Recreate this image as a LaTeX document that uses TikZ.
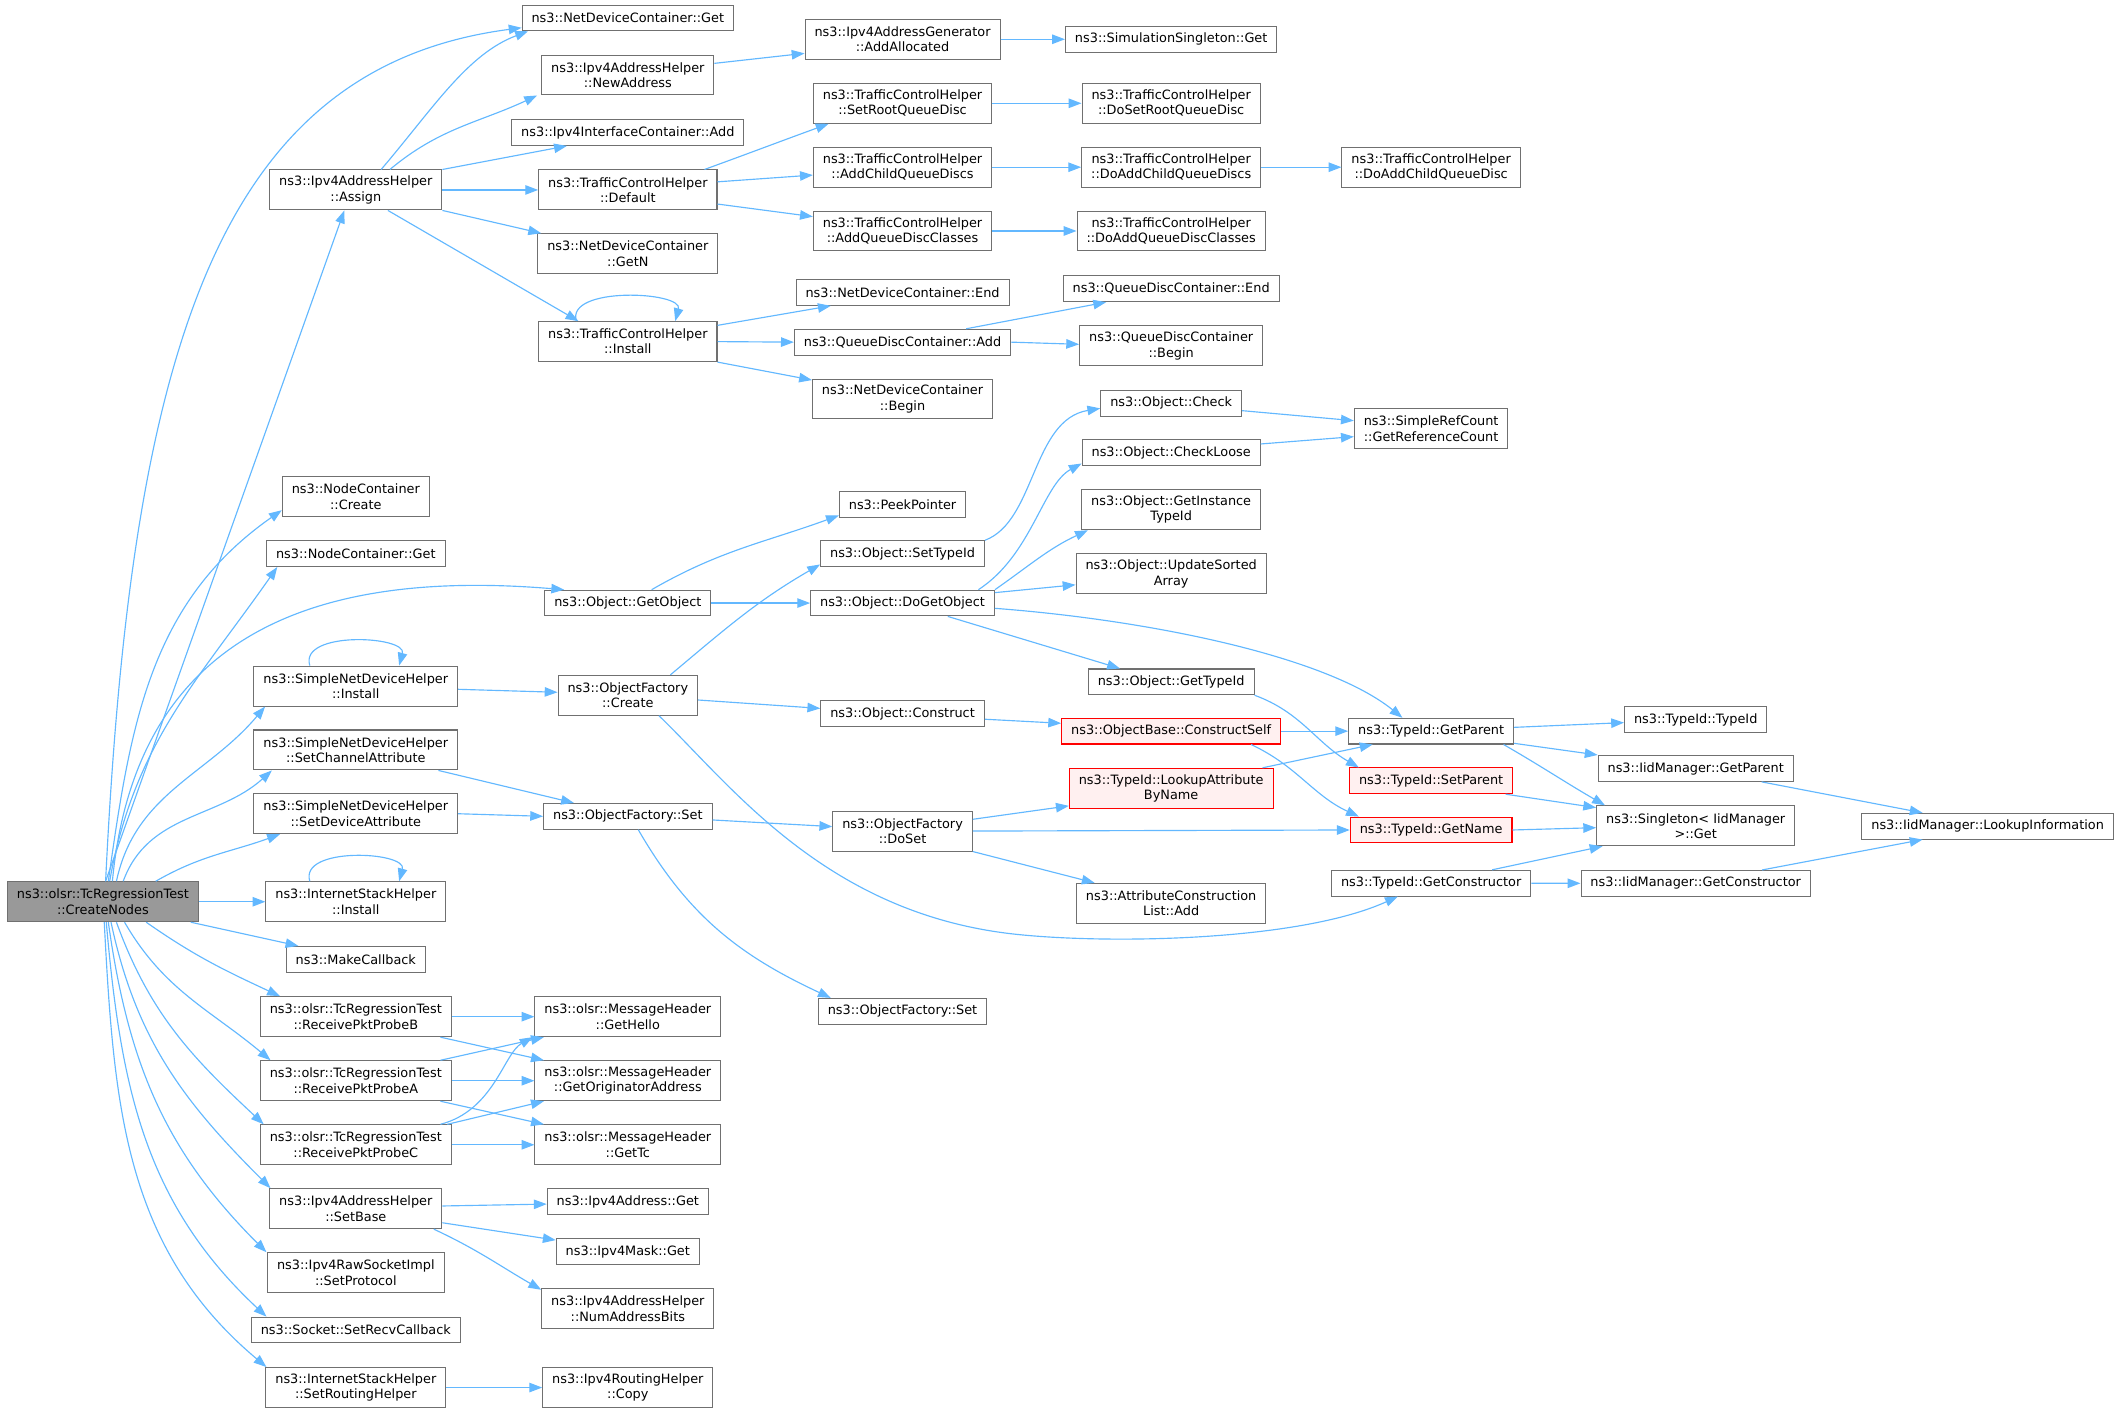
\documentclass[tikz,border=0pt]{standalone}
\usepackage{fontspec}
\setmainfont{DejaVu Sans}
\usetikzlibrary{arrows.meta}
\definecolor{edgeblue}{HTML}{63B8FF}
\definecolor{ndgray}{HTML}{707070}
\definecolor{rootgray}{HTML}{999999}
\definecolor{redfill}{HTML}{FFF0F0}
\definecolor{redline}{HTML}{FF0000}
\begin{document}
\begin{tikzpicture}[x=1pt,y=-1pt,
  nd/.style={draw=ndgray, fill=white, line width=0.75pt, inner xsep=7pt, inner ysep=0pt,
    minimum height=19pt, align=center, font={\fontsize{9.5}{11.2}\selectfont}},
  nd2/.style={nd, minimum height=29.5pt},
  rednd/.style={draw=redline, fill=redfill},
  rootnd/.style={fill=rootgray},
  edge/.style={draw=edgeblue, line width=0.85pt, -{Triangle[length=9.5pt,width=7pt]}}]
\useasboundingbox (0,0) rectangle (1568,1043.6);
% column 0
\node[nd2,rootnd] (CN) at (76,666) {ns3::olsr::TcRegressionTest\\::CreateNodes};
% column 1
\node[nd2] (Assign) at (262.8,140.3) {ns3::Ipv4AddressHelper\\::Assign};
\node[nd2] (NodeCreate) at (262.8,366.8) {ns3::NodeContainer\\::Create};
\node[nd]  (NodeGet) at (262.8,408.9) {ns3::NodeContainer::Get};
\node[nd2] (SNDHInst) at (262.8,506.7) {ns3::SimpleNetDeviceHelper\\::Install};
\node[nd2] (SetChan) at (262.8,553.9) {ns3::SimpleNetDeviceHelper\\::SetChannelAttribute};
\node[nd2] (SetDev) at (262.8,601) {ns3::SimpleNetDeviceHelper\\::SetDeviceAttribute};
\node[nd2] (ISHInst) at (262.8,666) {ns3::InternetStackHelper\\::Install};
\node[nd]  (MakeCB) at (262.8,708.5) {ns3::MakeCallback};
\node[nd2] (ProbeB) at (262.8,750.9) {ns3::olsr::TcRegressionTest\\::ReceivePktProbeB};
\node[nd2] (ProbeA) at (262.8,798.2) {ns3::olsr::TcRegressionTest\\::ReceivePktProbeA};
\node[nd2] (ProbeC) at (262.8,845.5) {ns3::olsr::TcRegressionTest\\::ReceivePktProbeC};
\node[nd2] (SetBase) at (262.8,892.7) {ns3::Ipv4AddressHelper\\::SetBase};
\node[nd2] (SetProto) at (262.8,940) {ns3::Ipv4RawSocketImpl\\::SetProtocol};
\node[nd]  (SetRecv) at (262.8,982.3) {ns3::Socket::SetRecvCallback};
\node[nd2] (SetRouting) at (262.8,1024.8) {ns3::InternetStackHelper\\::SetRoutingHelper};
% column 2
\node[nd]  (NDCGet) at (463.7,13.2) {ns3::NetDeviceContainer::Get};
\node[nd2] (NewAddr) at (463.7,55.4) {ns3::Ipv4AddressHelper\\::NewAddress};
\node[nd]  (IfAdd) at (463.7,97.9) {ns3::Ipv4InterfaceContainer::Add};
\node[nd2] (Default) at (463.7,140.3) {ns3::TrafficControlHelper\\::Default};
\node[nd2] (GetN) at (463.7,187.4) {ns3::NetDeviceContainer\\::GetN};
\node[nd2] (TCInst) at (463.7,252.3) {ns3::TrafficControlHelper\\::Install};
\node[nd]  (GetObject) at (463.7,445.4) {ns3::Object::GetObject};
\node[nd2] (OFCreate) at (463.7,513.5) {ns3::ObjectFactory\\::Create};
\node[nd]  (OFSet) at (463.7,602.9) {ns3::ObjectFactory::Set};
\node[nd2] (GetHello) at (463.7,750.9) {ns3::olsr::MessageHeader\\::GetHello};
\node[nd2] (GetOrig) at (463.7,798.2) {ns3::olsr::MessageHeader\\::GetOriginatorAddress};
\node[nd2] (GetTc) at (463.7,845.5) {ns3::olsr::MessageHeader\\::GetTc};
\node[nd]  (AddrGet) at (463.7,887.6) {ns3::Ipv4Address::Get};
\node[nd]  (MaskGet) at (463.7,924.3) {ns3::Ipv4Mask::Get};
\node[nd2] (NumBits) at (463.7,966.6) {ns3::Ipv4AddressHelper\\::NumAddressBits};
\node[nd2] (RCopy) at (463.7,1024.8) {ns3::Ipv4RoutingHelper\\::Copy};
% column 3
\node[nd2] (AddAlloc) at (666.6,29) {ns3::Ipv4AddressGenerator\\::AddAllocated};
\node[nd2] (SetRoot) at (666.6,76.3) {ns3::TrafficControlHelper\\::SetRootQueueDisc};
\node[nd2] (AddChild) at (666.6,123.5) {ns3::TrafficControlHelper\\::AddChildQueueDiscs};
\node[nd2] (AddQDC) at (666.6,170.6) {ns3::TrafficControlHelper\\::AddQueueDiscClasses};
\node[nd]  (NDCEnd) at (666.6,216) {ns3::NetDeviceContainer::End};
\node[nd]  (QDCAdd) at (666.6,252.7) {ns3::QueueDiscContainer::Add};
\node[nd2] (NDCBegin) at (666.6,294.7) {ns3::NetDeviceContainer\\::Begin};
\node[nd]  (PeekPtr) at (666.6,372.7) {ns3::PeekPointer};
\node[nd]  (SetTypeId) at (666.6,408.9) {ns3::Object::SetTypeId};
\node[nd]  (DoGetObj) at (666.6,445.4) {ns3::Object::DoGetObject};
\node[nd]  (Construct) at (666.6,527.2) {ns3::Object::Construct};
\node[nd2] (DoSet) at (666.6,613.8) {ns3::ObjectFactory\\::DoSet};
\node[nd]  (OFSet2) at (666.6,746.9) {ns3::ObjectFactory::Set};
% column 4
\node[nd]  (SimSing) at (865,29) {ns3::SimulationSingleton::Get};
\node[nd2] (DoSetRoot) at (865,76.3) {ns3::TrafficControlHelper\\::DoSetRootQueueDisc};
\node[nd2] (DoAddChildQDs) at (865,123.5) {ns3::TrafficControlHelper\\::DoAddChildQueueDiscs};
\node[nd2] (DoAddQDC) at (865,170.6) {ns3::TrafficControlHelper\\::DoAddQueueDiscClasses};
\node[nd]  (QDCEnd) at (865,213.3) {ns3::QueueDiscContainer::End};
\node[nd2] (QDCBegin) at (865,255.5) {ns3::QueueDiscContainer\\::Begin};
\node[nd]  (ObjCheck) at (865,297.9) {ns3::Object::Check};
\node[nd]  (CheckLoose) at (865,334.3) {ns3::Object::CheckLoose};
\node[nd2] (GetInstTid) at (865,376.5) {ns3::Object::GetInstance\\TypeId};
\node[nd2] (UpdSorted) at (865,423.9) {ns3::Object::UpdateSorted\\Array};
\node[nd]  (GetTypeId) at (865,503.6) {ns3::Object::GetTypeId};
\node[nd,rednd] (CSelf) at (865,540) {ns3::ObjectBase::ConstructSelf};
\node[nd2,rednd] (LookupAttr) at (865,582.2) {ns3::TypeId::LookupAttribute\\ByName};
\node[nd2] (ACAdd) at (865,667.2) {ns3::AttributeConstruction\\List::Add};
% column 5
\node[nd2] (DoAddChildQD) at (1057,123.5) {ns3::TrafficControlHelper\\::DoAddChildQueueDisc};
\node[nd2] (GetRefCount) at (1057,316.6) {ns3::SimpleRefCount\\::GetReferenceCount};
\node[nd]  (GetParent) at (1057,540) {ns3::TypeId::GetParent};
\node[nd,rednd] (SetParent) at (1057,576.7) {ns3::TypeId::SetParent};
\node[nd,rednd] (GetName) at (1057,613) {ns3::TypeId::GetName};
\node[nd]  (GetCtor) at (1057,652.3) {ns3::TypeId::GetConstructor};
% column 6
\node[nd]  (TidTid) at (1252.4,531.4) {ns3::TypeId::TypeId};
\node[nd]  (IidParent) at (1252.4,567.6) {ns3::IidManager::GetParent};
\node[nd2] (SingGet) at (1252.4,609.9) {ns3::Singleton< IidManager\\>::Get};
\node[nd]  (IidCtor) at (1252.4,652.4) {ns3::IidManager::GetConstructor};
% column 7
\node[nd]  (LookupInfo) at (1468,610.2) {ns3::IidManager::LookupInformation};

% ---- edges from CreateNodes
\draw[edge] ([xshift=2pt]CN.north) .. controls (97,260) and (160,50) .. ([yshift=-7.3pt]NDCGet.west);
\draw[edge] ([xshift=2pt]CN.north) -- ([xshift=-8.5pt]Assign.south);
\draw[edge] ([xshift=4pt]CN.north) to[out=82,in=215] ([yshift=-10pt]NodeCreate.west);
\draw[edge] ([xshift=5pt]CN.north) to[out=80,in=235] ([xshift=-58pt]NodeGet.south);
\draw[edge] ([xshift=7pt]CN.north) .. controls (100,470) and (230,420) .. ([xshift=-47pt]GetObject.north);
\draw[edge] ([xshift=10pt]CN.north) to[out=78,in=230] ([xshift=-67pt]SNDHInst.south);
\draw[edge] ([xshift=15pt]CN.north) to[out=70,in=222] ([xshift=-62pt]SetChan.south);
\draw[edge] ([xshift=39pt]CN.north) to[out=30,in=200] ([xshift=-56pt]SetDev.south);
\draw[edge] (CN.east) -- (ISHInst.west);
\draw[edge] ([xshift=-6pt]CN.south east) -- ([xshift=-42.4pt]MakeCB.north);
\draw[edge] ([xshift=32pt]CN.south) to[out=-35,in=155] ([xshift=-56pt]ProbeB.north);
\draw[edge] ([xshift=16pt]CN.south) to[out=-60,in=140] ([xshift=-63pt]ProbeA.north);
\draw[edge] ([xshift=10pt]CN.south) to[out=-70,in=137] ([xshift=-68pt]ProbeC.north);
\draw[edge] ([xshift=6pt]CN.south) to[out=-78,in=135] ([xshift=-63pt]SetBase.north);
\draw[edge] ([xshift=4pt]CN.south) to[out=-82,in=135] ([xshift=-66pt]SetProto.north);
\draw[edge] ([xshift=2.5pt]CN.south) to[out=-85,in=137] ([xshift=-66pt]SetRecv.north);
\draw[edge] ([xshift=1pt]CN.south) to[out=-87,in=140] ([xshift=-66pt]SetRouting.north);
% ---- self loops
\draw[edge] ([xshift=-34pt]SNDHInst.north) .. controls +(-8,-26) and +(6,-22) .. ([xshift=32pt]SNDHInst.north);
\draw[edge] ([xshift=-34pt]ISHInst.north) .. controls +(-8,-26) and +(6,-22) .. ([xshift=32pt]ISHInst.north);
\draw[edge] ([xshift=-38pt]TCInst.north) .. controls +(-8,-26) and +(6,-22) .. ([xshift=35pt]TCInst.north);
% ---- Assign
\draw[edge] ([xshift=18.7pt]Assign.north) .. controls (320,80) and (345,40) .. ([xshift=-73.7pt]NDCGet.south);
\draw[edge] ([xshift=25.2pt]Assign.north) to[out=40,in=205] ([xshift=-67pt]NewAddr.south);
\draw[edge] (Assign.north east) -- ([xshift=-45pt]IfAdd.south);
\draw[edge] (Assign.east) -- (Default.west);
\draw[edge] (Assign.south east) -- ([xshift=-64pt]GetN.north);
\draw[edge] ([xshift=23.7pt]Assign.south) -- ([xshift=-36.5pt]TCInst.north);
% ---- upper right
\draw[edge] ([yshift=8.6pt]NewAddr.east) -- ([yshift=-10.4pt]AddAlloc.west);
\draw[edge] (AddAlloc.east) -- (SimSing.west);
\draw[edge] ([xshift=56.6pt]Default.north) to[out=20,in=200] ([xshift=-54.6pt]SetRoot.south);
\draw[edge] ([yshift=6pt]Default.east) -- ([yshift=-5.8pt]AddChild.west);
\draw[edge] ([yshift=-10.4pt]Default.east) -- ([yshift=10.6pt]AddQDC.west);
\draw[edge] (SetRoot.east) -- (DoSetRoot.west);
\draw[edge] (AddChild.east) -- (DoAddChildQDs.west);
\draw[edge] (DoAddChildQDs.east) -- (DoAddChildQD.west);
\draw[edge] (AddQDC.east) -- (DoAddQDC.west);
\draw[edge] ([yshift=12pt]TCInst.east) -- ([xshift=-53pt]NDCEnd.south);
\draw[edge] (TCInst.east) -- (QDCAdd.west);
\draw[edge] (TCInst.south east) -- ([yshift=14pt]NDCBegin.west);
\draw[edge] ([xshift=47pt]QDCAdd.north) -- ([xshift=-48pt]QDCEnd.south);
\draw[edge] (QDCAdd.east) -- ([yshift=1.2pt]QDCBegin.west);
% ---- objects
\draw[edge] ([xshift=17.6pt]GetObject.north) to[out=30,in=200] ([yshift=-8pt]PeekPtr.west);
\draw[edge] (GetObject.east) -- (DoGetObj.west);
\draw[edge] ([xshift=31.5pt]OFCreate.north) to[out=40,in=210] ([yshift=-8pt]SetTypeId.west);
\draw[edge] ([yshift=-3.5pt]OFCreate.east) -- ([yshift=4pt]Construct.west);
\draw[edge] ([xshift=23pt]OFCreate.south) .. controls (540,580) and (610,675) .. (750,690)
   .. controls (820,697.5) and (960,695) .. ([xshift=-24.6pt]GetCtor.south);
\draw[edge] ([yshift=-2.4pt]SNDHInst.east) -- ([yshift=2.2pt]OFCreate.west);
\draw[edge] ([xshift=61pt]SetChan.south) -- ([xshift=-39.8pt]OFSet.north);
\draw[edge] (SetDev.east) -- (OFSet.west);
\draw[edge] ([yshift=-2.7pt]OFSet.east) -- ([yshift=3.3pt]DoSet.west);
\draw[edge] ([xshift=7.7pt]OFSet.south) to[out=-60,in=155] ([xshift=-53pt]OFSet2.north);
\draw[edge] ([xshift=56pt]DoGetObj.north) .. controls (762,410) and (770,358) .. ([yshift=-8pt]CheckLoose.west);
\draw[edge] (SetTypeId.north east) .. controls (765,385) and (762,310) .. ([yshift=-3.7pt]ObjCheck.west);
\draw[edge] (DoGetObj.north east) to[out=35,in=205] ([xshift=-61.5pt]GetInstTid.south);
\draw[edge] ([yshift=7.7pt]DoGetObj.east) -- ([yshift=-8pt]UpdSorted.west);
\draw[edge] ([yshift=-3.9pt]DoGetObj.east) .. controls (850,458) and (980,485) .. ([xshift=-21.2pt]GetParent.north);
\draw[edge] ([xshift=33.4pt]DoGetObj.south) -- ([xshift=-37.8pt]GetTypeId.north);
\draw[edge] (GetTypeId.south east) to[out=-20,in=150] ([xshift=-53.4pt]SetParent.north);
\draw[edge] ([yshift=-4pt]Construct.east) -- ([yshift=5.8pt]CSelf.west);
\draw[edge] (CSelf.east) -- (GetParent.west);
\draw[edge] ([xshift=59pt]CSelf.south) to[out=-25,in=155] ([xshift=-53.4pt]GetName.north);
\draw[edge] ([xshift=67.5pt]LookupAttr.north) -- ([xshift=-43.2pt]GetParent.south);
\draw[edge] ([yshift=8.7pt]DoSet.east) -- ([yshift=-13pt]LookupAttr.west);
\draw[edge] (DoSet.east) -- (GetName.west);
\draw[edge] (DoSet.south east) -- ([xshift=-56.5pt]ACAdd.north);
\draw[edge] ([yshift=-5.4pt]ObjCheck.east) -- ([yshift=5.9pt]GetRefCount.west);
\draw[edge] ([yshift=6.4pt]CheckLoose.east) -- ([yshift=-5.9pt]GetRefCount.west);
\draw[edge] ([yshift=2.8pt]GetParent.east) -- ([yshift=-2.3pt]TidTid.west);
\draw[edge] ([yshift=-9pt]GetParent.east) -- ([yshift=10pt]IidParent.west);
\draw[edge] ([xshift=53.5pt]GetParent.south) to[out=-30,in=150] ([xshift=-67pt]SingGet.north);
\draw[edge] ([xshift=55pt]SetParent.south) -- ([yshift=13.4pt]SingGet.west);
\draw[edge] (GetName.east) -- ([yshift=-1.4pt]SingGet.west);
\draw[edge] ([xshift=45pt]GetCtor.north) -- ([xshift=-68.8pt]SingGet.south);
\draw[edge] (GetCtor.east) -- (IidCtor.west);
\draw[edge] ([xshift=48.7pt]IidParent.south) -- ([xshift=-48pt]LookupInfo.north);
\draw[edge] ([xshift=49pt]IidCtor.north) -- ([xshift=-48pt]LookupInfo.south);
% ---- probes and lower
\draw[edge] (ProbeB.east) -- (GetHello.west);
\draw[edge] ([xshift=62.5pt]ProbeB.south) -- ([xshift=-62pt]GetOrig.north);
\draw[edge] ([xshift=62.5pt]ProbeA.north) -- ([xshift=-62pt]GetHello.south);
\draw[edge] (ProbeA.east) -- (GetOrig.west);
\draw[edge] ([xshift=62.5pt]ProbeA.south) -- ([xshift=-62pt]GetTc.north);
\draw[edge] ([xshift=62.5pt]ProbeC.north) .. controls (365,820) and (372,778) .. ([xshift=-70.3pt]GetHello.south);
\draw[edge] ([xshift=67.6pt]ProbeC.north) -- ([xshift=-62pt]GetOrig.south);
\draw[edge] (ProbeC.east) -- (GetTc.west);
\draw[edge] ([yshift=2pt]SetBase.east) -- ([yshift=-1.7pt]AddrGet.west);
\draw[edge] ([yshift=-10.4pt]SetBase.east) -- ([yshift=8.4pt]MaskGet.west);
\draw[edge] ([xshift=57.6pt]SetBase.south) to[out=-25,in=150] ([yshift=14pt]NumBits.west);
\draw[edge] (SetRouting.east) -- (RCopy.west);
\end{tikzpicture}
\end{document}
